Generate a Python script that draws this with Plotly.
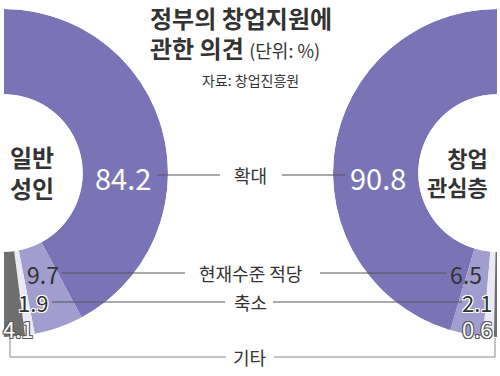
import plotly.graph_objects as go

categories = ["확대", "현재수준 적당", "축소", "기타"]
general_adults = [84.2, 9.7, 1.9, 4.1]
startup_interested = [90.8, 6.5, 2.1, 0.6]
group_names = ["일반<br>성인", "창업<br>관심층"]
colors = ["#7a74b6", "#a29dcf", "#ebeaf2", "#6e6e6e"]

W, H = 500, 376
FONT = "Noto Sans CJK KR"
TXT = "#333333"


def px(x):
    return x / W


def py(y):
    return 1 - y / H


def arcs(values):
    total = sum(values)
    thetas, widths, start = [], [], 0.0
    for v in values:
        w = v / total * 180.0
        thetas.append(start + w / 2)
        widths.append(w)
        start += w
    return thetas, widths


fig = go.Figure()
for vals, pol in [(general_adults, "polar"), (startup_interested, "polar2")]:
    th, wd = arcs(vals)
    fig.add_trace(go.Barpolar(
        r=[1] * len(vals), theta=th, width=wd, subplot=pol,
        marker=dict(color=colors, line=dict(width=0)),
        hoverinfo="skip", showlegend=False,
    ))

common_radial = dict(visible=False, range=[0, 1])
fig.update_layout(
    width=W, height=H, margin=dict(l=0, r=0, t=0, b=0),
    paper_bgcolor="white", plot_bgcolor="white",
    polar=dict(
        domain=dict(x=[px(4), px(168)], y=[py(337), py(9)]),
        sector=[-90, 90], hole=0.48, bargap=0, bgcolor="rgba(0,0,0,0)",
        radialaxis=common_radial,
        angularaxis=dict(visible=False, rotation=90, direction="clockwise"),
    ),
    polar2=dict(
        domain=dict(x=[px(333), px(497)], y=[py(337), py(9)]),
        sector=[90, 270], hole=0.48, bargap=0, bgcolor="rgba(0,0,0,0)",
        radialaxis=common_radial,
        angularaxis=dict(visible=False, rotation=90, direction="counterclockwise"),
    ),
)

ann = []


def add_text(text, x, y, size, color=TXT, xanchor="center", align="center", shadow=None):
    f = dict(family=FONT, size=size, color=color)
    if shadow:
        f["shadow"] = shadow
    ann.append(dict(text=text, x=px(x), y=py(y), xref="paper", yref="paper",
                    xanchor=xanchor, yanchor="middle", align=align,
                    showarrow=False, font=f))


# Title
add_text("<b>정부의 창업지원에</b>", 148, 18, 24, xanchor="left", align="left")
add_text("<b>관한 의견</b> <span style='font-size:18px'>(단위: %)</span>", 148, 48, 24,
         xanchor="left", align="left")
add_text("자료: 창업진흥원", 250, 80, 14)

# Group names
add_text("<b>" + group_names[0] + "</b>", 8, 172, 24, xanchor="left", align="left")
add_text("<b>" + group_names[1] + "</b>", 490, 171, 22, xanchor="right", align="right")

# Category labels
cat_y = [175, 273, 302, 357]
for c, y in zip(categories, cat_y):
    add_text(c, 250, y, 18)

# Value labels
white_out = "1px 1px 0 #fff, -1px -1px 0 #fff, 1px -1px 0 #fff, -1px 1px 0 #fff"
dark_out = "1px 1px 0 #555, -1px -1px 0 #555, 1px -1px 0 #555, -1px 1px 0 #555"
left_pos = [(123, 177, 29, "white", None), (43, 274, 23, TXT, None),
            (33, 302, 22, TXT, white_out), (18, 328, 22, "white", dark_out)]
right_pos = [(378, 177, 29, "white", None), (466, 274, 23, TXT, None),
             (477, 302, 22, TXT, white_out), (477, 328, 22, "white", dark_out)]
for v, (x, y, s, col, sh) in zip(general_adults, left_pos):
    add_text(f"{v}", x, y, s, color=col, shadow=sh)
for v, (x, y, s, col, sh) in zip(startup_interested, right_pos):
    add_text(f"{v}", x, y, s, color=col, shadow=sh)

fig.update_layout(annotations=ann)

# Leader lines
shapes = []


def line(x0, y0, x1, y1, color="#555555"):
    shapes.append(dict(type="line", xref="paper", yref="paper",
                       x0=px(x0), y0=py(y0), x1=px(x1), y1=py(y1),
                       line=dict(color=color, width=1), layer="above"))


line(157, 175, 220, 175)
line(282, 175, 345, 175)
line(62, 273, 185, 273)
line(320, 273, 447, 273)
line(52, 302, 225, 302)
line(273, 302, 462, 302)
# bracket for 기타
bc = "#8a8a8a"
line(10, 338, 10, 357, bc)
line(10, 357, 226, 357, bc)
line(274, 357, 495, 357, bc)
line(495, 357, 495, 338, bc)

fig.update_layout(shapes=shapes)
fig.write_html(
    "out.html",
    config={"displayModeBar": False},
    post_script="document.body.style.margin='0';document.body.style.overflow='hidden';",
)
